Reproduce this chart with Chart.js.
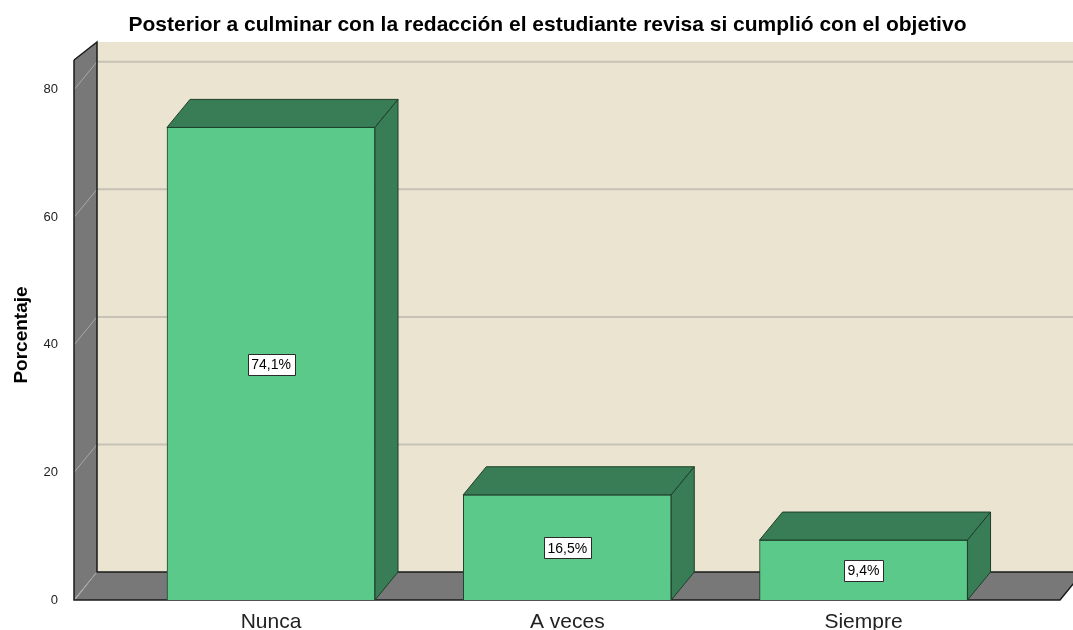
<!DOCTYPE html>
<html>
<head>
<meta charset="utf-8">
<script src="https://cdn.jsdelivr.net/npm/chart.js@4/dist/chart.umd.min.js"></script>
<style>
  html, body { margin: 0; padding: 0; background: #ffffff; overflow: hidden; }
  canvas { display: block; }
</style>
</head>
<body>
<canvas id="chart" width="1073" height="630"></canvas>
<script>
// Data
const categories = ["Nunca", "A veces", "Siempre"];
const percentages = [74.1, 16.5, 9.4];
const yTicks = [0, 20, 40, 60, 80];

const FONT = "'Liberation Sans', Arial, sans-serif";
const DX = 23, DY = -28; // depth offset of the 3D box

// walls, floor and back-wall grid go under the bars, bar tops/sides and labels on top
const box3d = {
    id: "box3d",
    beforeDatasetsDraw(chart) {
        const ctx = chart.ctx;
        const y = chart.scales.y;
        const a = chart.chartArea;
        const left = a.left, right = 1060;
        const base = y.getPixelForValue(0);
        const topFront = a.top - 10;
        ctx.save();
        // back wall
        ctx.fillStyle = "#EAE4D0";
        ctx.fillRect(left + DX, a.top + DY, chart.width - left - DX, base - a.top);
        // grid lines on back wall
        ctx.strokeStyle = "#C6C2B6";
        ctx.lineWidth = 2;
        yTicks.slice(1).forEach(v => {
            const py = y.getPixelForValue(v) + DY;
            ctx.beginPath();
            ctx.moveTo(left + DX, py);
            ctx.lineTo(chart.width, py);
            ctx.stroke();
        });
        // left wall
        ctx.fillStyle = "#787878";
        ctx.beginPath();
        ctx.moveTo(left, topFront);
        ctx.lineTo(left + DX, a.top + DY);
        ctx.lineTo(left + DX, base + DY);
        ctx.lineTo(left, base);
        ctx.closePath();
        ctx.fill();
        // grid lines on the left wall
        ctx.strokeStyle = "#A8A8A8";
        ctx.lineWidth = 1;
        yTicks.forEach(v => {
            const py = y.getPixelForValue(v);
            ctx.beginPath();
            ctx.moveTo(left, py);
            ctx.lineTo(left + DX, py + DY);
            ctx.stroke();
        });
        // floor
        ctx.fillStyle = "#787878";
        ctx.beginPath();
        ctx.moveTo(left + 1, base);
        ctx.lineTo(left + DX, base + DY);
        ctx.lineTo(right + DX, base + DY);
        ctx.lineTo(right, base);
        ctx.closePath();
        ctx.fill();
        ctx.strokeStyle = "#A8A8A8";
        ctx.beginPath();
        ctx.moveTo(left, base);
        ctx.lineTo(left + DX, base + DY);
        ctx.stroke();
        // outlines
        ctx.strokeStyle = "#1A1A1A";
        ctx.lineWidth = 1.5;
        ctx.beginPath();
        ctx.moveTo(left, topFront);
        ctx.lineTo(left, base);
        ctx.lineTo(right, base);
        ctx.lineTo(right + DX, base + DY);
        ctx.stroke();
        ctx.beginPath();
        ctx.moveTo(left, topFront);
        ctx.lineTo(left + DX, a.top + DY);
        ctx.lineTo(left + DX, base + DY);
        ctx.lineTo(chart.width, base + DY);
        ctx.stroke();
        ctx.restore();
    },
    afterDatasetsDraw(chart) {
        const ctx = chart.ctx;
        const meta = chart.getDatasetMeta(0);
        ctx.save();
        ctx.lineJoin = "round";
        meta.data.forEach((bar, i) => {
            const p = bar.getProps(["x", "y", "base", "width"], true);
            const l = p.x - p.width / 2, r = p.x + p.width / 2;
            ctx.fillStyle = "#387D55";
            ctx.strokeStyle = "#1E3F2A";
            ctx.lineWidth = 1;
            // top face
            ctx.beginPath();
            ctx.moveTo(l, p.y);
            ctx.lineTo(l + DX, p.y + DY);
            ctx.lineTo(r + DX, p.y + DY);
            ctx.lineTo(r, p.y);
            ctx.closePath();
            ctx.fill();
            ctx.stroke();
            // side face
            ctx.beginPath();
            ctx.moveTo(r, p.y);
            ctx.lineTo(r + DX, p.y + DY);
            ctx.lineTo(r + DX, p.base + DY);
            ctx.lineTo(r, p.base);
            ctx.closePath();
            ctx.fill();
            ctx.stroke();
            // value label
            const txt = percentages[i].toFixed(1).replace(".", ",") + "%";
            ctx.font = "14px " + FONT;
            const w = Math.round(ctx.measureText(txt).width + 7);
            const cy = (p.y + p.base) / 2;
            const bx = Math.round(p.x - w / 2) + 0.5, by = Math.round(cy - 10) + 0.5;
            ctx.fillStyle = "#ffffff";
            ctx.fillRect(bx, by, w, 21);
            ctx.strokeStyle = "#2A2A2A";
            ctx.strokeRect(bx, by, w, 21);
            ctx.fillStyle = "#000000";
            ctx.textAlign = "center";
            ctx.textBaseline = "middle";
            ctx.fillText(txt, p.x, cy + 1.5);
        });
        ctx.restore();
    }
};

new Chart(document.getElementById("chart").getContext("2d"), {
    type: "bar",
    data: {
        datasets: [{
            data: categories.map((c, i) => ({ x: i, y: percentages[i] })),
            backgroundColor: "#5BC98A",
            borderColor: "#1E3F2A",
            borderWidth: 1,
            barThickness: 208,
        }],
    },
    options: {
        responsive: false,
        animation: false,
        devicePixelRatio: 1,
        layout: { padding: { left: 22, right: 0, top: 0, bottom: 0 } },
        plugins: {
            legend: { display: false },
            tooltip: { enabled: false },
            title: {
                display: true,
                text: "Posterior a culminar con la redacción el estudiante revisa si cumplió con el objetivo",
                color: "#000000",
                font: { family: FONT, size: 21, weight: "bold" },
                padding: { top: 13, bottom: 31.8 },
            },
        },
        scales: {
            x: {
                type: "linear",
                offset: false,
                min: -0.665,
                max: 2.707,
                grid: { display: false, offset: false },
                border: { display: false },
                ticks: {
                    stepSize: 1,
                    includeBounds: false,
                    maxRotation: 0,
                    autoSkip: false,
                    color: "#222222",
                    padding: 2,
                    font: { family: FONT, size: 21 },
                    callback: (v) => (Number.isInteger(v) ? categories[v] : ""),
                },
                afterFit(scale) { scale.height = 30; scale.paddingLeft = 0; scale.paddingRight = 0; },
            },
            y: {
                min: 0,
                max: 83.1,
                grid: { display: false },
                border: { display: false },
                ticks: {
                    stepSize: 20,
                    includeBounds: false,
                    color: "#222222",
                    padding: 8,
                    font: { family: FONT, size: 13 },
                },
                title: {
                    display: true,
                    text: "Porcentaje",
                    color: "#000000",
                    padding: { top: -12, bottom: 0 },
                    font: { family: FONT, size: 19, weight: "bold" },
                },
                afterFit(scale) { scale.width = 52; scale.paddingTop = 0; scale.paddingBottom = 0; },
            },
        },
    },
    plugins: [box3d],
});
</script>
</body>
</html>
